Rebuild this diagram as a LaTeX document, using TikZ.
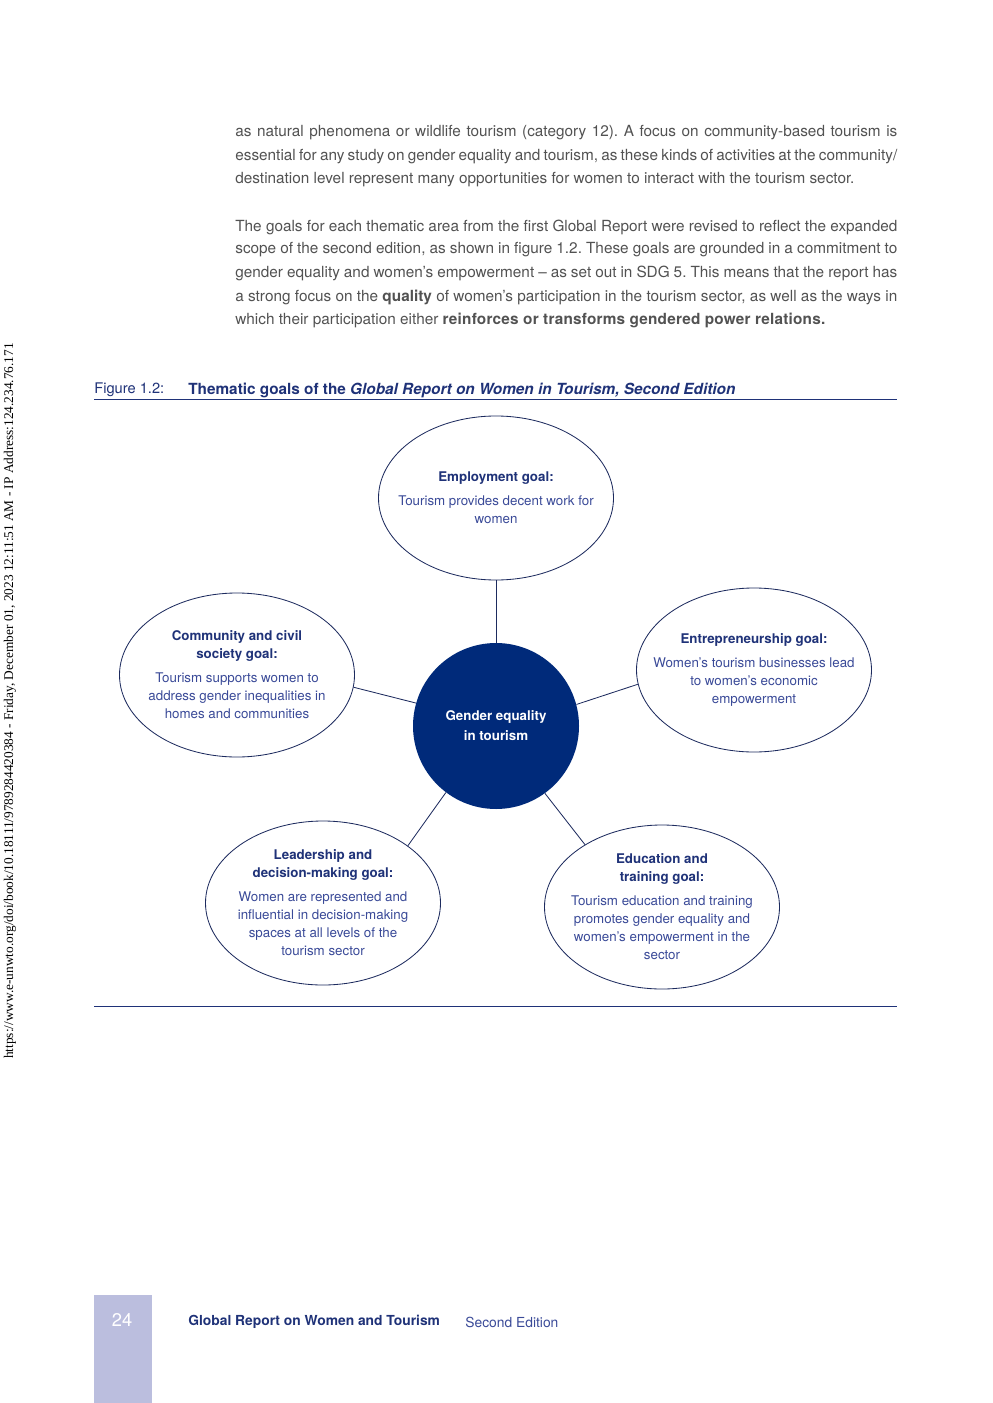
\documentclass[tikz,border=0pt]{standalone}
\usepackage{fontspec}
\setmainfont{TeX Gyre Heros}
\newfontfamily\sidefont{Liberation Serif}
\usetikzlibrary{shapes.geometric,positioning}
\definecolor{unblue}{HTML}{002A7A}
\definecolor{titleblue}{HTML}{1F3278}
\definecolor{goalblue}{HTML}{3A4A98}
\definecolor{linenavy}{HTML}{1D2B5E}
\definecolor{bodygray}{HTML}{525252}
\definecolor{pagebox}{HTML}{BBBEDE}
\frenchspacing
\begin{document}
\begin{tikzpicture}[x=0.6pt,y=-0.6pt,
  goal/.style={ellipse,draw=linenavy,line width=0.5pt,minimum width=141pt,minimum height=98.4pt,inner sep=0pt},
  goaltext/.style={text=goalblue,align=center,inner sep=0pt,font=\fontsize{8}{10.8}\selectfont},
  hub/.style={circle,fill=unblue,minimum size=99.6pt,inner sep=0pt,text=white,align=center,font=\bfseries\fontsize{8}{12}\selectfont},
  link/.style={draw=linenavy,line width=0.5pt},
  bodyline/.style={anchor=west,inner sep=0pt,text=bodygray,font=\fontsize{9.2}{14}\selectfont}]
\useasboundingbox[fill=white] (0,0) rectangle (992,1403);
% running text above the figure
\node[bodyline] (l1) at (235,133) {\makebox[397.2pt][s]{as natural phenomena or wildlife tourism (category 12). A focus on community-based tourism is}};
\node[bodyline] (l2) at (235,157) {\makebox[397.2pt][s]{essential for any study on gender equality and tourism, as these kinds of activities at the community/}};
\node[bodyline] (l3) at (235,180) {destination level represent many opportunities for women to interact with the tourism sector.};
\node[bodyline] (l4) at (235,227) {\makebox[397.2pt][s]{The goals for each thematic area from the first Global Report were revised to reflect the expanded}};
\node[bodyline] (l5) at (235,250) {\makebox[397.2pt][s]{scope of the second edition, as shown in figure 1.2. These goals are grounded in a commitment to}};
\node[bodyline] (l6) at (235,273) {\makebox[397.2pt][s]{gender equality and women’s empowerment – as set out in SDG 5. This means that the report has}};
\node[bodyline] (l7) at (235,297) {\makebox[397.2pt][s]{a strong focus on the \textbf{quality} of women’s participation in the tourism sector, as well as the ways in}};
\node[bodyline] (l8) at (235,320) {which their participation either {\bfseries\addfontfeature{LetterSpace=1.4}reinforces or transforms gendered power relations.}};
% caption
\node[anchor=west,inner sep=0pt,text=titleblue,font=\fontsize{8.8}{10}\selectfont] (fig) at (94,390) {Figure 1.2:};
\node[anchor=west,inner sep=0pt,text=titleblue,font=\bfseries\fontsize{9.2}{10}\selectfont] (cap) at (188,390) {Thematic goals of the \textit{Global Report on Women in Tourism, Second Edition}};
\draw[titleblue,line width=0.6pt] (94,399) -- (897,399);
% goals
\node[hub] (hub) at (496,726) {Gender equality\\in tourism};
\node[goal] (emp) at (496,498) {};
\node[goal] (comm) at (237,675) {};
\node[goal] (entr) at (754,670) {};
\node[goal] (lead) at (323,903) {};
\node[goal] (edu) at (662,907) {};
\node[goaltext] (empt) at (emp) {{\bfseries\color{titleblue}Employment goal:}\\[3.6pt]Tourism provides decent work for\\women};
\node[goaltext] (commt) at (comm) {{\bfseries\color{titleblue}Community and civil}\\{\bfseries\color{titleblue}society goal:}\\[3.6pt]Tourism supports women to\\address gender inequalities in\\homes and communities};
\node[goaltext] (entrt) at (entr) {{\bfseries\color{titleblue}Entrepreneurship goal:}\\[3.6pt]Women’s tourism businesses lead\\to women’s economic\\empowerment};
\node[goaltext] (leadt) at (lead) {{\bfseries\color{titleblue}Leadership and}\\{\bfseries\color{titleblue}decision-making goal:}\\[3.6pt]Women are represented and\\influential in decision-making\\spaces at all levels of the\\tourism sector};
\node[goaltext] (edut) at (edu) {{\bfseries\color{titleblue}Education and}\\{\bfseries\color{titleblue}training goal:}\\[3.6pt]Tourism education and training\\promotes gender equality and\\women’s empowerment in the\\sector};
\draw[link] (hub.90) -- (emp.270);
\draw[link] (hub.164.8) -- (comm.354.2);
\draw[link] (hub.15.7) -- (entr.187.3);
\draw[link] (hub.233.3) -- (lead.34);
\draw[link] (hub.306.9) -- (edu.141.6);
\draw[titleblue,line width=0.6pt] (94,1006) -- (897,1006);
% side stamp
\node[rotate=90,inner sep=0pt,text=black,font=\sidefont\fontsize{8}{8}\selectfont] (stamp) at (10,701) {https://www.e-unwto.org/doi/book/10.18111/9789284420384 - Friday, December 01, 2023 12:11:51 AM - IP Address:124.234.76.171};
% footer
\fill[pagebox] (94,1295) rectangle (152,1403);
\node[inner sep=0pt,text=white,font=\fontsize{11}{12}\selectfont] (page) at (122,1320) {24};
\node[anchor=west,inner sep=0pt,text=titleblue,font=\bfseries\fontsize{8.3}{10}\selectfont] (foot) at (188,1322) {Global Report on Women and Tourism};
\node[anchor=west,inner sep=0pt,text=goalblue,font=\fontsize{8.3}{10}\selectfont] (ed) at (465,1322) {Second Edition};
\end{tikzpicture}
\end{document}
